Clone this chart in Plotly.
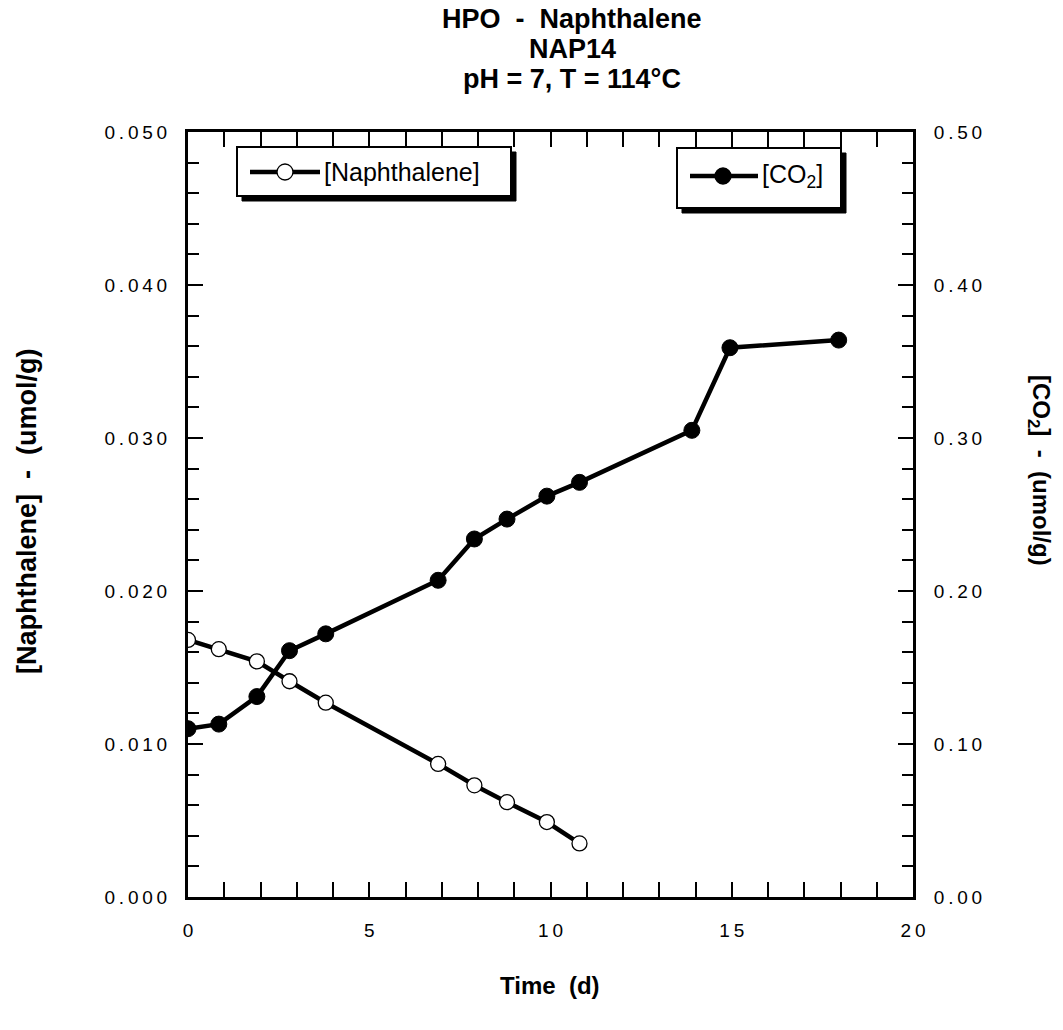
import plotly.graph_objects as go

# ---------------- data ----------------
naph_time = [0, 0.85, 1.9, 2.8, 3.8, 6.9, 7.9, 8.8, 9.9, 10.8]
naph_conc = [0.0168, 0.0162, 0.0154, 0.0141, 0.0127, 0.0087, 0.0073, 0.0062, 0.0049, 0.0035]

co2_time = [0, 0.85, 1.9, 2.8, 3.8, 6.9, 7.9, 8.8, 9.9, 10.8, 13.9, 14.95, 17.95]
co2_conc = [0.110, 0.113, 0.131, 0.161, 0.172, 0.207, 0.234, 0.247, 0.262, 0.271, 0.305, 0.359, 0.364]

x_tickvals = [0, 5, 10, 15, 20]
x_ticktext = ["0", "5", "1\u20090", "1\u20095", "2\u20090"]
y1_tickvals = [0.0, 0.01, 0.02, 0.03, 0.04, 0.05]
y1_ticktext = ["0.000", "0.010", "0.020", "0.030", "0.040", "0.050"]
y2_tickvals = [0.0, 0.1, 0.2, 0.3, 0.4, 0.5]
y2_ticktext = ["0.00", "0.10", "0.20", "0.30", "0.40", "0.50"]

title_lines = ["HPO  -  Naphthalene", "NAP14", "pH = 7, T = 114\u00b0C"]
x_title = "Time  (d)"
y1_title = "[Naphthalene]  -  (umol/g)"
y2_title = "[CO<sub>2</sub>]  -  (umol/g)"
legend1_text = "[Naphthalene]"
legend2_text = "[CO<sub>2</sub>]"


def spaced(s):
    return "\u2009".join(list(s))


# ---------------- layout geometry (pixels) ----------------
W, H = 1063, 1030
L, R, T, B = 188, 913, 132, 897
PW, PH = R - L, B - T


def px(x):
    return (x - L) / PW


def py(y):
    return (B - y) / PH


FONT = "Liberation Sans, Arial, sans-serif"
BLACK = "#000000"

fig = go.Figure()

fig.add_trace(go.Scatter(
    x=naph_time, y=naph_conc, mode="lines+markers", name="[Naphthalene]",
    line=dict(color=BLACK, width=4.5),
    marker=dict(symbol="circle", size=15, color="white", line=dict(color=BLACK, width=1.3)),
    yaxis="y", showlegend=False,
))
fig.add_trace(go.Scatter(
    x=co2_time, y=co2_conc, mode="lines+markers", name="[CO2]",
    line=dict(color=BLACK, width=4.5),
    marker=dict(symbol="circle", size=16, color=BLACK, line=dict(color=BLACK, width=1)),
    yaxis="y2", showlegend=False,
))

axis_common = dict(
    showline=True, linecolor=BLACK, linewidth=3, ticks="inside",
    tickcolor=BLACK, tickwidth=2, ticklen=15, showgrid=False, zeroline=False,
    tickfont=dict(family=FONT, size=19, color=BLACK),
)

fig.update_layout(
    width=W, height=H,
    margin=dict(l=L, r=W - R, t=T, b=H - B),
    plot_bgcolor="white", paper_bgcolor="white",
    showlegend=False,
    xaxis=dict(
        range=[0, 20], tickmode="array", tickvals=x_tickvals, ticktext=x_ticktext,
        mirror="allticks", ticklabelstandoff=14,
        minor=dict(dtick=1, ticks="inside", ticklen=9, tickwidth=2, tickcolor=BLACK, showgrid=False),
        **axis_common,
    ),
    yaxis=dict(
        range=[0, 0.05], tickmode="array", tickvals=y1_tickvals,
        ticktext=[spaced(t) for t in y1_ticktext], ticklabelstandoff=14,
        minor=dict(dtick=0.002, ticks="inside", ticklen=11, tickwidth=2, tickcolor=BLACK, showgrid=False),
        **axis_common,
    ),
    yaxis2=dict(
        range=[0, 0.5], overlaying="y", side="right", tickmode="array",
        tickvals=y2_tickvals, ticktext=[spaced(t) for t in y2_ticktext], ticklabelstandoff=14,
        minor=dict(dtick=0.02, ticks="inside", ticklen=11, tickwidth=2, tickcolor=BLACK, showgrid=False),
        **axis_common,
    ),
)

# ---------------- titles ----------------
annotations = []
for txt, yc in zip(title_lines, [19, 49, 79]):
    annotations.append(dict(
        text="<b>%s</b>" % txt, xref="paper", yref="paper", x=px(572), y=py(yc),
        xanchor="center", yanchor="middle", showarrow=False,
        font=dict(family=FONT, size=27, color=BLACK),
    ))
annotations.append(dict(
    text="<b>%s</b>" % x_title, xref="paper", yref="paper", x=px(550), y=py(985),
    xanchor="center", yanchor="middle", showarrow=False,
    font=dict(family=FONT, size=24, color=BLACK),
))
annotations.append(dict(
    text="<b>%s</b>" % y1_title, xref="paper", yref="paper", x=px(27), y=py(512),
    xanchor="center", yanchor="middle", showarrow=False, textangle=-90,
    font=dict(family=FONT, size=27, color=BLACK),
))
annotations.append(dict(
    text="<b>%s</b>" % y2_title, xref="paper", yref="paper", x=px(1040), y=py(470),
    xanchor="center", yanchor="middle", showarrow=False, textangle=90,
    font=dict(family=FONT, size=24, color=BLACK),
))

# ---------------- legends (drawn boxes) ----------------
shapes = []


def legend_box(x0, y0, x1, y1, lx0, lx1, ly, cx, filled, text, tx):
    # shadow
    shapes.append(dict(type="rect", xref="paper", yref="paper",
                       x0=px(x0 + 5), x1=px(x1 + 5), y0=py(y0 + 5), y1=py(y1 + 5),
                       fillcolor=BLACK, line=dict(color=BLACK, width=1), layer="above"))
    shapes.append(dict(type="rect", xref="paper", yref="paper",
                       x0=px(x0), x1=px(x1), y0=py(y0), y1=py(y1),
                       fillcolor="white", line=dict(color=BLACK, width=2), layer="above"))
    shapes.append(dict(type="line", xref="paper", yref="paper",
                       x0=px(lx0), x1=px(lx1), y0=py(ly), y1=py(ly),
                       line=dict(color=BLACK, width=4.5), layer="above"))
    shapes.append(dict(type="circle", xref="paper", yref="paper",
                       xsizemode="pixel", ysizemode="pixel",
                       xanchor=px(cx), yanchor=py(ly),
                       x0=-8, x1=8, y0=-8, y1=8,
                       fillcolor=BLACK if filled else "white",
                       line=dict(color=BLACK, width=1.3), layer="above"))
    annotations.append(dict(
        text=text, xref="paper", yref="paper", x=px(tx), y=py(ly),
        xanchor="left", yanchor="middle", showarrow=False,
        font=dict(family=FONT, size=25, color=BLACK),
    ))


legend_box(237, 147, 511, 196, 250, 320, 172, 285, False, legend1_text, 322)
legend_box(677, 148, 841, 208, 690, 758, 176, 723, True, legend2_text, 760)

fig.update_layout(annotations=annotations, shapes=shapes)

fig.write_html("out.html")
